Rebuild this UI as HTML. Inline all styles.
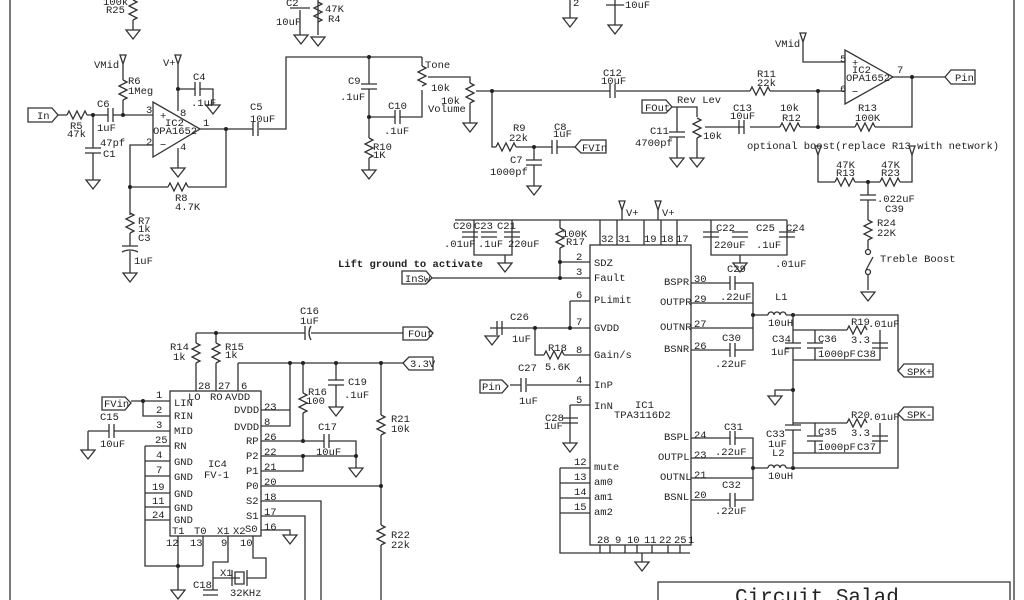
<!DOCTYPE html>
<html><head><meta charset="utf-8"><style>
html,body{margin:0;padding:0;background:#fff;}
svg{display:block;}
text{font-family:"Liberation Mono",monospace;font-size:10.5px;fill:#222;}
.w{stroke:#333;stroke-width:1.3;fill:none;}
.d{fill:#222;}
</style></head><body>
<svg width="1024" height="600" viewBox="0 0 1024 600" xmlns="http://www.w3.org/2000/svg">
<defs>
<path id="g" class="w" d="M-7,0 H7 L0,9 Z"/>
<polyline id="rv" class="w" points="0,0 4,2 -4,6 4,10 -4,14 4,18 0,20"/>
<polyline id="rh" class="w" points="0,0 2,-4 6,4 10,-4 14,4 18,-4 20,0"/>
<path id="ch" class="w" d="M0,-7 V7 M5,-7 V7"/>
<path id="cv" class="w" d="M-8,0 H8 M-8,5 H8"/>
<path id="up" class="w" d="M0,0 L-3,-9 H3 Z"/>
</defs>
<rect x="0" y="0" width="1024" height="600" fill="#fff"/>
<path class="w" d="M10,0 V600 M1014,0 V600"/>

<!-- top fragments -->
<text x="103" y="5">100k</text><text x="106" y="13">R25</text>
<use href="#rv" x="133" y="0"/><path class="w" d="M133,20 V30"/><use href="#g" x="133" y="30"/>
<text x="286" y="6">C2</text><text x="276" y="25">10uF</text><path class="w" d="M290,8 H310 M300,10 V35 M318,0 V35"/>
<use href="#rv" x="318" y="2"/><text x="325" y="12">47K</text><text x="328" y="22">R4</text>
<use href="#g" x="301" y="35"/><use href="#g" x="318" y="37"/>
<path class="w" d="M570,0 V18 M615,0 V25 M606,5 H624"/><text x="573" y="6">2</text><text x="625" y="8">10uF</text>
<use href="#g" x="570" y="18"/><use href="#g" x="615" y="25"/>

<!-- input opamp -->
<path class="w" d="M28,108 H52 L58,115 L52,122 H28 Z"/><text x="37" y="119">In</text>
<path class="w" d="M58,115 H67 M87,115 H108 M113,115 H153 M93,115 V148 M93,153 V180 M123,115 V100 M123,80 V64"/>
<use href="#rh" x="67" y="115"/><use href="#ch" x="108" y="115"/>
<use href="#cv" x="93" y="148"/><use href="#g" x="93" y="180"/>
<circle class="d" cx="93" cy="115" r="2"/><circle class="d" cx="123" cy="115" r="2"/>
<use href="#rv" x="123" y="80"/><use href="#up" x="123" y="64"/>
<text x="94" y="68">VMid</text><text x="128" y="84">R6</text><text x="128" y="94">1Meg</text>
<text x="97" y="107">C6</text><text x="97" y="131">1uF</text><text x="70" y="129">R5</text><text x="67" y="137">47k</text>
<text x="100" y="146">47pf</text><text x="103" y="157">C1</text>
<path class="w" d="M153,102 V157 L200,129 Z"/>
<text x="160" y="119">+</text><text x="160" y="148">−</text><text x="165" y="126">IC2</text><text x="153" y="134">OPA1652</text>
<text x="146" y="113">3</text><text x="180" y="116">8</text><text x="146" y="145">2</text><text x="180" y="150">4</text><text x="203" y="126">1</text>
<path class="w" d="M178,64 V111 M178,89 H195 M200,89 H213 V105 M178,148 V168"/>
<use href="#up" x="178" y="64"/><text x="163" y="66">V+</text><use href="#ch" x="195" y="89"/><use href="#g" x="213" y="105"/>
<circle class="d" cx="178" cy="89" r="2"/><text x="193" y="80">C4</text><text x="191" y="106">.1uF</text>
<use href="#g" x="178" y="168"/>
<path class="w" d="M153,145 H130 V215 M130,187 H168 M188,187 H226 V129 M200,129 H253 M259,129 H286 V57 H422"/>
<use href="#rh" x="168" y="187"/><circle class="d" cx="130" cy="187" r="2"/><circle class="d" cx="226" cy="129" r="2"/>
<use href="#ch" x="253" y="129"/>
<text x="175" y="201">R8</text><text x="175" y="210">4.7K</text><text x="250" y="110">C5</text><text x="250" y="122">10uF</text>
<use href="#rv" x="130" y="213"/><path class="w" d="M130,233 V246 M122,246 H138 M122,252 Q130,248 138,252 M130,251 V273"/>
<use href="#g" x="130" y="273"/>
<text x="138" y="224">R7</text><text x="138" y="232">1k</text><text x="138" y="241">C3</text><text x="134" y="264">1uF</text>

<!-- tone/volume -->
<path class="w" d="M369,57 V84 M369,89 V138 M369,158 V170 M369,117 H395 M400,117 H422 V90 M422,57 V66 M428,77 H470 V83 M470,103 V123 M476,91 H492 V147 H496 M492,91 H610 M616,91 H750"/>
<use href="#cv" x="369" y="84"/><use href="#ch" x="395" y="117"/><use href="#rv" x="369" y="138"/><use href="#g" x="369" y="170"/>
<use href="#rv" x="422" y="66"/><use href="#rv" x="470" y="83"/><use href="#g" x="470" y="123"/>
<circle class="d" cx="369" cy="57" r="2"/><circle class="d" cx="369" cy="117" r="2"/><circle class="d" cx="492" cy="91" r="2"/>
<text x="425" y="68">Tone</text><text x="431" y="91">10k</text><text x="441" y="104">10k</text><text x="428" y="112">Volume</text>
<text x="348" y="84">C9</text><text x="340" y="100">.1uF</text><text x="388" y="109">C10</text><text x="384" y="134">.1uF</text>
<text x="373" y="150">R10</text><text x="373" y="158">1K</text>
<use href="#rh" x="496" y="147"/><path class="w" d="M516,147 H552 M557,147 H575 M534,147 V160 M534,165 V186"/>
<use href="#ch" x="552" y="147"/><use href="#cv" x="534" y="160"/><use href="#g" x="534" y="186"/><circle class="d" cx="534" cy="147" r="2"/>
<path class="w" d="M575,147 L581,140 H606 V153 H581 Z"/><text x="582" y="151">FVIn</text>
<text x="513" y="131">R9</text><text x="509" y="141">22k</text><text x="554" y="130">C8</text><text x="553" y="137">1uF</text>
<text x="510" y="163">C7</text><text x="490" y="175">1000pf</text>
<use href="#ch" x="610" y="91"/><text x="603" y="76">C12</text><text x="601" y="84">10uF</text>

<!-- right opamp -->
<use href="#rh" x="750" y="91"/><path class="w" d="M770,91 H845 M818,91 V127 M803,42 V62 H845 M893,77 H945 M912,77 V127 H875 M855,127 H818 H800 M780,127 H750 M744,127 H705"/>
<use href="#up" x="803" y="42"/><text x="775" y="47">VMid</text>
<path class="w" d="M845,50 V104 L893,77 Z"/><text x="852" y="66">+</text><text x="852" y="95">−</text>
<text x="852" y="73">IC2</text><text x="846" y="81">OPA1652</text><text x="840" y="62">5</text><text x="840" y="92">6</text><text x="897" y="73">7</text>
<circle class="d" cx="818" cy="91" r="2"/><circle class="d" cx="818" cy="127" r="2"/><circle class="d" cx="912" cy="77" r="2"/>
<path class="w" d="M945,77 L951,70 H975 V84 H951 Z"/><text x="955" y="81">Pin</text>
<use href="#rh" x="855" y="127"/><use href="#rh" x="780" y="127"/><use href="#ch" x="739" y="127"/>
<text x="757" y="77">R11</text><text x="757" y="86">22k</text><text x="780" y="111">10k</text><text x="782" y="121">R12</text>
<text x="858" y="111">R13</text><text x="855" y="121">100K</text><text x="733" y="111">C13</text><text x="730" y="119">10uF</text>
<path class="w" d="M642,100 H666 L672,107 L666,113 H642 Z"/><text x="645" y="111">FOut</text>
<path class="w" d="M672,107 H697 V117 M677,107 V132 M677,137 V158 M697,138 V158"/>
<use href="#rv" x="697" y="118"/><use href="#cv" x="677" y="132"/><use href="#g" x="677" y="158"/><use href="#g" x="697" y="158"/>
<text x="677" y="103">Rev Lev</text><text x="650" y="134">C11</text><text x="635" y="146">4700pf</text><text x="703" y="139">10k</text>
<text x="747" y="149">optional boost(replace R13 with network)</text>
<path class="w" d="M818,155 V182 H835 M855,182 H880 M900,182 H912 V155 M868,182 V195 M868,200 V220 M868,240 V250 M868,274 V290 M866,270 L873,257"/>
<use href="#up" x="818" y="155"/><use href="#up" x="912" y="155"/>
<use href="#rh" x="835" y="182"/><use href="#rh" x="880" y="182"/><use href="#cv" x="868" y="195"/><use href="#rv" x="868" y="220"/>
<circle class="w" cx="868" cy="252" r="2.5"/><circle class="w" cx="868" cy="272" r="2.5"/><use href="#g" x="868" y="292"/>
<circle class="d" cx="868" cy="182" r="2"/>
<text x="836" y="168">47K</text><text x="836" y="176">R13</text><text x="881" y="168">47K</text><text x="881" y="176">R23</text>
<text x="877" y="202">.022uF</text><text x="885" y="212">C39</text><text x="877" y="226">R24</text><text x="877" y="236">22K</text>
<text x="880" y="262">Treble Boost</text>

<!-- IC1 -->
<rect class="w" x="590" y="245" width="101" height="300"/>
<path class="w" d="M455,220 H787 M474,220 V255 H512 V220 M505,255 V263 M600,220 V245 M617,220 V245 M644,220 V245 M661,220 V245 M677,220 V245 M622,210 V220 M658,210 V220 M711,220 V255 H787 V220 M740,255 V263"/>
<use href="#up" x="622" y="210"/><use href="#up" x="658" y="210"/><text x="626" y="216">V+</text><text x="662" y="216">V+</text>
<use href="#cv" x="470" y="232"/><use href="#cv" x="489" y="232"/><use href="#cv" x="512" y="232"/><use href="#g" x="505" y="263"/>
<use href="#cv" x="711" y="232"/><use href="#cv" x="740" y="232"/><use href="#cv" x="787" y="232"/><use href="#g" x="740" y="263"/>
<text x="453" y="229">C20</text><text x="474" y="229">C23</text><text x="497" y="229">C21</text><text x="444" y="247">.01uF</text><text x="478" y="247">.1uF</text><text x="508" y="247">220uF</text>
<text x="716" y="231">C22</text><text x="756" y="231">C25</text><text x="786" y="231">C24</text><text x="714" y="248">220uF</text><text x="756" y="248">.1uF</text><text x="775" y="267">.01uF</text>
<text x="601" y="242">32</text><text x="618" y="242">31</text><text x="644" y="242">19</text><text x="661" y="242">18</text><text x="676" y="242">17</text>
<use href="#rv" x="560" y="228"/><path class="w" d="M560,220 V228 M560,248 V278 M560,262 H590 M432,278 H590"/>
<circle class="d" cx="560" cy="262" r="2"/><circle class="d" cx="560" cy="278" r="2"/>
<text x="562" y="237">100K</text><text x="566" y="245">R17</text><text x="338" y="267" style="font-weight:bold">Lift ground to activate</text>
<path class="w" d="M402,271 H426 L432,278 L426,284 H402 Z"/><text x="405" y="282">InSw</text>
<text x="576" y="260">2</text><text x="576" y="275">3</text><text x="576" y="298">6</text><text x="576" y="325">7</text><text x="576" y="353">8</text><text x="576" y="383">4</text><text x="576" y="403">5</text>
<text x="594" y="266">SDZ</text><text x="594" y="281">Fault</text><text x="594" y="303">PLimit</text><text x="594" y="331">GVDD</text><text x="594" y="358">Gain/s</text><text x="594" y="388">InP</text><text x="594" y="409">InN</text>
<text x="594" y="470">mute</text><text x="594" y="485">am0</text><text x="594" y="500">am1</text><text x="594" y="515">am2</text>
<text x="574" y="465">12</text><text x="574" y="480">13</text><text x="574" y="495">14</text><text x="574" y="510">15</text>
<path class="w" d="M570,301 H590 M570,301 V328 M490,328 H590 M535,328 V355 H544 M564,355 H590 M510,385 H521 M527,385 H590 M570,405 H590 V405 M570,405 V443 M560,468 V553 H690 M560,468 H590 M560,483 H590 M560,498 H590 M560,513 H590 M600,545 V553 M610,545 V553 M625,545 V553 M637,545 V553 M652,545 V553 M668,545 V553 M680,545 V553 M642,553 V562"/>
<use href="#ch" x="497" y="328"/><use href="#g" x="492" y="336"/><use href="#rh" x="544" y="355"/><use href="#ch" x="521" y="385"/>
<use href="#cv" x="570" y="418"/><use href="#g" x="570" y="443"/><use href="#g" x="642" y="562"/>
<circle class="d" cx="570" cy="328" r="2"/><circle class="d" cx="535" cy="328" r="2"/>
<text x="510" y="320">C26</text><text x="512" y="342">1uF</text><text x="548" y="351">R18</text><text x="545" y="370">5.6K</text>
<path class="w" d="M480,380 H502 L508,386 L502,393 H480 Z"/><text x="482" y="390">Pin</text>
<text x="518" y="371">C27</text><text x="519" y="404">1uF</text><text x="545" y="421">C28</text><text x="544" y="429">1uF</text>
<text x="635" y="408">IC1</text><text x="614" y="418">TPA3116D2</text>
<text x="597" y="543">28</text><text x="615" y="543">9</text><text x="627" y="543">10</text><text x="644" y="543">11</text><text x="659" y="543">22</text><text x="674" y="543">25</text><text x="688" y="543">1</text>
<text x="664" y="285">BSPR</text><text x="660" y="305">OUTPR</text><text x="660" y="330">OUTNR</text><text x="664" y="352">BSNR</text>
<text x="664" y="440">BSPL</text><text x="658" y="460">OUTPL</text><text x="660" y="480">OUTNL</text><text x="664" y="500">BSNL</text>
<text x="694" y="282">30</text><text x="694" y="302">29</text><text x="694" y="327">27</text><text x="694" y="349">26</text>
<text x="694" y="438">24</text><text x="694" y="458">23</text><text x="694" y="478">21</text><text x="694" y="498">20</text>
<path class="w" d="M691,283 H730 M735,283 H753 V350 H735 M730,350 H691 M691,303 H753 M691,328 H753 M753,315 H768 M786,315 H898 V371 M691,438 H730 M735,438 H753 V500 H735 M730,500 H691 M691,458 H753 M691,478 H753 M753,468 H768 M786,468 H898 V414"/>
<use href="#ch" x="730" y="283"/><use href="#ch" x="730" y="350"/><use href="#ch" x="730" y="438"/><use href="#ch" x="730" y="500"/>
<path class="w" d="M768,315 a3,3 0 0 1 6,0 a3,3 0 0 1 6,0 a3,3 0 0 1 6,0 M768,468 a3,3 0 0 1 6,0 a3,3 0 0 1 6,0 a3,3 0 0 1 6,0"/>
<circle class="d" cx="753" cy="315" r="2"/><circle class="d" cx="753" cy="468" r="2"/><circle class="d" cx="793" cy="315" r="2"/><circle class="d" cx="793" cy="468" r="2"/>
<text x="727" y="272">C29</text><text x="720" y="300">.22uF</text><text x="775" y="300">L1</text><text x="768" y="326">10uH</text>
<text x="722" y="341">C30</text><text x="715" y="367">.22uF</text><text x="724" y="430">C31</text><text x="715" y="455">.22uF</text>
<text x="722" y="488">C32</text><text x="715" y="514">.22uF</text><text x="772" y="456">L2</text><text x="768" y="479">10uH</text>
<path class="w" d="M793,315 V343 M793,348 V425 M793,430 V468 M793,330 H847 M793,360 H880 V330 M815,330 V343 M815,348 V360 M793,390 H775 V396 M793,423 H847 M793,453 H880 V423 M815,423 V436 M815,441 V453"/>
<use href="#cv" x="793" y="343"/><use href="#cv" x="815" y="343"/><use href="#cv" x="880" y="343"/><use href="#rh" x="847" y="330"/>
<use href="#cv" x="793" y="425"/><use href="#cv" x="815" y="436"/><use href="#cv" x="880" y="436"/><use href="#rh" x="847" y="423"/>
<use href="#g" x="775" y="396"/><circle class="d" cx="793" cy="390" r="2"/>
<text x="772" y="342">C34</text><text x="771" y="355">1uF</text><text x="818" y="342">C36</text><text x="818" y="357">1000pF</text><text x="857" y="357">C38</text>
<text x="851" y="325">R19</text><text x="868" y="327">.01uF</text><text x="851" y="343">3.3</text>
<text x="766" y="437">C33</text><text x="768" y="447">1uF</text><text x="818" y="435">C35</text><text x="818" y="450">1000pF</text><text x="857" y="450">C37</text>
<text x="851" y="418">R20</text><text x="868" y="420">.01uF</text><text x="851" y="436">3.3</text>
<path class="w" d="M898,371 L904,364 H933 V377 H904 Z"/><text x="907" y="375">SPK+</text>
<path class="w" d="M898,414 L904,407 H933 V420 H904 Z"/><text x="907" y="418">SPK-</text>

<!-- IC4 -->
<rect class="w" x="170" y="391" width="91" height="145"/>
<path class="w" d="M196,333 V343 M196,363 V391 M216,333 V343 M216,363 V391 M196,333 H305 M311,333 H403 M238,363 V391 M238,363 H403 M290,363 V426 H261 M261,410 H290 M303,363 V393 M303,413 V441 M336,363 V380 M336,385 V407 M381,363 V415 M381,435 V525 M381,545 V600 M261,441 H324 M329,441 H356 V456 M261,456 H356 V468 M261,471 H303 V456 M261,486 H381 M261,501 H321 V600 M261,516 H305 V600 M261,530 H290 V535"/>
<use href="#rv" x="196" y="343"/><use href="#rv" x="216" y="343"/><use href="#rv" x="303" y="393"/><use href="#rv" x="381" y="415"/><use href="#rv" x="381" y="525"/>
<use href="#cv" x="336" y="380"/><use href="#g" x="336" y="407"/><use href="#ch" x="324" y="441"/><use href="#g" x="356" y="468"/><use href="#g" x="290" y="535"/>
<path class="w" d="M305,326 V340 M311,326 Q307,333 311,340"/>
<circle class="d" cx="216" cy="333" r="2"/><circle class="d" cx="290" cy="363" r="2"/><circle class="d" cx="303" cy="363" r="2"/><circle class="d" cx="336" cy="363" r="2"/><circle class="d" cx="381" cy="363" r="2"/><circle class="d" cx="381" cy="486" r="2"/><circle class="d" cx="303" cy="441" r="2"/><circle class="d" cx="303" cy="456" r="2"/><circle class="d" cx="356" cy="456" r="2"/>
<path class="w" d="M403,327 H427 L433,333 L427,340 H403 Z"/><text x="408" y="337">FOut</text>
<path class="w" d="M403,363 L409,357 H433 V370 H409 Z"/><text x="410" y="367">3.3V</text>
<text x="300" y="314">C16</text><text x="300" y="324">1uF</text><text x="170" y="350">R14</text><text x="173" y="360">1k</text><text x="225" y="350">R15</text><text x="225" y="358">1k</text>
<text x="308" y="395">R16</text><text x="306" y="404">100</text><text x="348" y="385">C19</text><text x="344" y="398">.1uF</text>
<text x="318" y="430">C17</text><text x="316" y="455">10uF</text><text x="391" y="422">R21</text><text x="391" y="432">10k</text><text x="391" y="538">R22</text><text x="391" y="548">22k</text>
<path class="w" d="M102,397 H125 L131,403 L125,410 H102 Z"/><text x="104" y="407">FVin</text>
<path class="w" d="M131,401 H170 M143,401 V416 H170 M88,431 V450 M88,431 H109 M114,431 H170 M145,446 H170 M145,446 V566 H203 M145,461 H170 M145,476 H170 M145,493 H170 M145,507 H170 M145,520 H170 M178,536 V590 M203,536 V566 M228,536 V562 H213 V590 M253,536 V558 H266 V578 H247 M240,578 H213"/>
<use href="#ch" x="109" y="431"/><use href="#g" x="88" y="450"/><use href="#g" x="178" y="590"/>
<path class="w" d="M232,570 V586 M247,570 V586 M235,572 H244 V584 H235 Z"/>
<circle class="d" cx="143" cy="401" r="2"/><circle class="d" cx="178" cy="566" r="2"/>
<text x="156" y="398">1</text><text x="156" y="413">2</text><text x="156" y="428">3</text><text x="155" y="443">25</text><text x="156" y="458">4</text><text x="156" y="473">7</text><text x="152" y="490">19</text><text x="152" y="504">11</text><text x="152" y="518">24</text>
<text x="100" y="420">C15</text><text x="100" y="447">10uF</text>
<text x="174" y="406">LIN</text><text x="174" y="419">RIN</text><text x="174" y="434">MID</text><text x="174" y="449">RN</text><text x="174" y="465">GND</text><text x="174" y="480">GND</text><text x="174" y="497">GND</text><text x="174" y="511">GND</text><text x="174" y="523">GND</text>
<text x="188" y="400">LO</text><text x="210" y="400">RO</text><text x="225" y="400">AVDD</text>
<text x="198" y="389">28</text><text x="218" y="389">27</text><text x="241" y="389">6</text>
<text x="234" y="413">DVDD</text><text x="234" y="430">DVDD</text><text x="246" y="444">RP</text><text x="246" y="459">P2</text><text x="246" y="474">P1</text><text x="246" y="489">P0</text><text x="246" y="504">S2</text><text x="246" y="519">S1</text><text x="245" y="532">S0</text>
<text x="264" y="410">23</text><text x="264" y="425">8</text><text x="264" y="440">26</text><text x="264" y="455">22</text><text x="264" y="470">21</text><text x="264" y="485">20</text><text x="264" y="500">18</text><text x="264" y="515">17</text><text x="264" y="530">16</text>
<text x="172" y="534">T1</text><text x="194" y="534">T0</text><text x="217" y="534">X1</text><text x="233" y="534">X2</text>
<text x="166" y="546">12</text><text x="190" y="546">13</text><text x="221" y="546">9</text><text x="240" y="546">10</text>
<text x="208" y="467">IC4</text><text x="204" y="478">FV-1</text>
<text x="220" y="576">X1</text><text x="193" y="588">C18</text><text x="230" y="596">32KHz</text>
<path class="w" d="M203,590 H218 M203,595 H218"/>

<!-- title -->
<path class="w" d="M658,600 V582 H1010 V600"/>
<text x="735" y="603" style="font-size:21px">Circuit Salad</text>
</svg>
</body></html>
